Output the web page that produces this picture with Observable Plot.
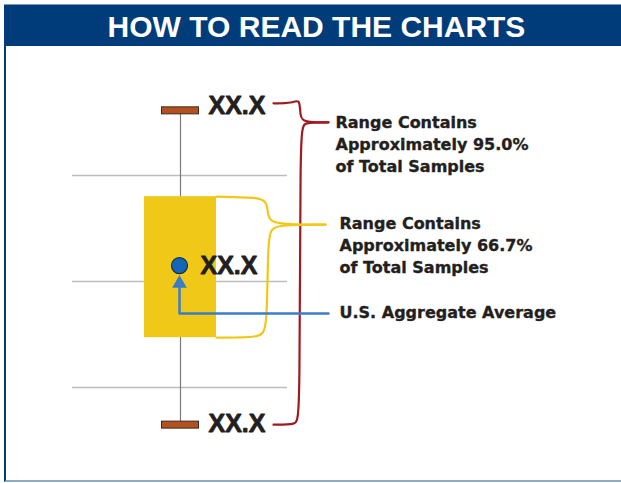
<!DOCTYPE html>
<html><head><meta charset="utf-8">
<script src="https://cdn.jsdelivr.net/npm/d3@7"></script>
<script src="https://cdn.jsdelivr.net/npm/@observablehq/plot@0.6"></script>
<style>
html,body{margin:0;padding:0;background:#fff}
body{width:621px;height:483px;position:relative;overflow:hidden;font-family:"Liberation Sans",Arial,sans-serif}
#frame{position:absolute;left:4px;top:4px;width:617px;height:476px;border-left:2px solid #003b7a;border-bottom:2px solid #8eaac9;box-sizing:content-box}
#header{position:absolute;left:4px;top:4px;width:617px;height:42px;background:#003b7a;border-top:1px solid #7d97b5;color:#fff;font-weight:bold;font-size:30px;font-family:"Liberation Sans",Arial,sans-serif;text-align:center;line-height:43px;padding-left:8px;box-sizing:border-box}
#chart{position:absolute;left:0;top:47px}
</style>
</head><body>
<div id="frame"></div>
<div id="header">HOW TO READ THE CHARTS</div>
<div id="chart"></div>
<script>
// ---- data ----
const gridValues = [20, 40, 60];
const statNames = ["low", "q1", "mean", "q3", "high"];
const statValues = [12.9, 29.4, 43.0, 56.0, 72.2];
const valueLabels = ["XX.X", "XX.X", "XX.X"];
const note95 = ["Range Contains", "Approximately 95.0%", "of Total Samples"];
const note667 = ["Range Contains", "Approximately 66.7%", "of Total Samples"];
const noteAvg = ["U.S. Aggregate Average"];

// ---- layout ----
const W = 621, H = 436;
const yDomain = [0, 80], yRange = [446, 22];
const k = (yRange[0] - yRange[1]) / (yDomain[1] - yDomain[0]); // px per unit
const off = (v, px) => v - px / k; // move value down by px pixels
const S = Object.fromEntries(statNames.map((n, i) => [n, statValues[i]]));
const cx = 180, boxHalf = 36, capHalf = 18.5, capH = 7;
const gridX1 = 72, gridX2 = 287;

const red = "#9e1b20", yellow = "#efc818", blue = "#3d7cc6";

const redTop = off(S.high, -7.5), redTip = off(S.high, 11.5), redBot = off(S.low, -0.5);
const yelTip = off(S.q3, 28);
const bracketPts = [
  ...[[273, redTop],[292, redTop],[299.5, off(redTop,-5)],[299.5, off(redTip,-6)],[303, redTip],[328, redTip]].map(([x,y])=>({id:"r1",x,y})),
  ...[[328, redTip],[303, redTip],[299.5, off(redTip,6)],[299.5, off(redBot,-6)],[296, redBot],[273, redBot]].map(([x,y])=>({id:"r2",x,y})),
  ...[[216, S.q3],[258, off(S.q3,0.5)],[267, off(S.q3,5)],[267, off(yelTip,-8)],[273, yelTip],[325, yelTip]].map(([x,y])=>({id:"y1",x,y})),
  ...[[325, yelTip],[273, yelTip],[267, off(yelTip,8)],[267, off(S.q1,-7)],[260, S.q1],[216, S.q1]].map(([x,y])=>({id:"y2",x,y}))
];
const arrowY = off(S.mean, 48), arrowTip = off(S.mean, 19);
const arrowPts = [{x: 328, y: arrowY}, {x: cx - 1, y: arrowY}, {x: cx - 1, y: arrowTip}];

const txtFont = "'DejaVu Sans', sans-serif";
const ink = "#231f20";
const lines = (arr, x, y0, step) => arr.map((t, i) => ({t, x, y: off(y0, i * step)}));
const noteStyle = {x: "x", y: "y", text: "t", textAnchor: "start", fontSize: 16, fontWeight: "bold", fill: ink, stroke: ink, strokeWidth: 0.35, fontFamily: txtFont};

const plot = Plot.plot({
  width: W, height: H,
  margin: 0,
  x: {type: "linear", domain: [0, W], range: [0, W], axis: null},
  y: {type: "linear", domain: yDomain, range: yRange, axis: null},
  marks: [
    Plot.ruleY(gridValues, {x1: gridX1, x2: gridX2, stroke: "#bcbcbc", strokeWidth: 1.5}),
    Plot.ruleX([cx], {y1: S.low, y2: S.high, stroke: "#7a7a7a", strokeWidth: 1.2}),
    Plot.rectY([{a: S.q1, b: S.q3}], {x1: cx - boxHalf, x2: cx + boxHalf, y1: "a", y2: "b", fill: yellow}),
    Plot.rectY([S.high, S.low], {x1: cx - capHalf, x2: cx + capHalf, y1: d => off(d, capH/2), y2: d => off(d, -capH/2), fill: "#b4511f", stroke: "#3b2a22", strokeWidth: 1}),
    Plot.line(bracketPts, {x: "x", y: "y", z: "id", curve: "basis", stroke: d => d.id[0] === "r" ? red : yellow, strokeWidth: 2.2}),
    Plot.line(arrowPts, {x: "x", y: "y", stroke: blue, strokeWidth: 2.5}),
    Plot.dot([{x: cx - 1, y: off(arrowTip, -1)}], {x: "x", y: "y", symbol: "triangle", r: 4.5, fill: blue, stroke: blue}),
    Plot.dot([S.mean], {x: cx - 1, y: d => d, r: 8, fill: "#1466b8", stroke: "#12304f", strokeWidth: 1.2}),
    Plot.text([
      {t: valueLabels[0], x: 208, y: off(S.high, -4.5)},
      {t: valueLabels[1], x: 200, y: S.mean},
      {t: valueLabels[2], x: 208, y: off(S.low, -1.5)}
    ], {x: "x", y: "y", text: "t", textAnchor: "start", fontSize: 25, fontWeight: "bold", fill: ink, stroke: ink, strokeWidth: 0.8, fontFamily: "'Liberation Sans', Arial, sans-serif"}),
    Plot.text(lines(note95, 335, off(redTip, 0.5), 22), noteStyle),
    Plot.text(lines(note667, 339, off(yelTip, -1), 22), noteStyle),
    Plot.text(lines(noteAvg, 339, off(arrowY, -1), 22), noteStyle)
  ]
});
document.getElementById("chart").appendChild(plot);
</script>
</body></html>
